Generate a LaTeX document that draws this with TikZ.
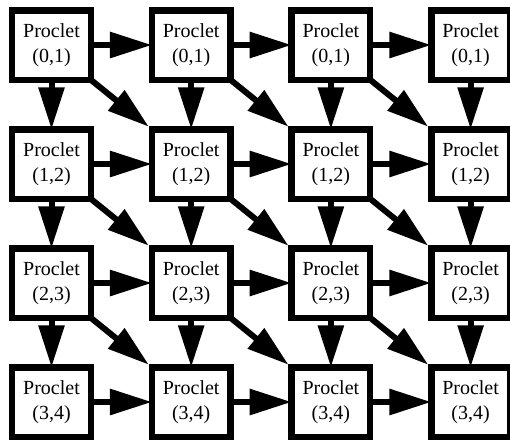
\documentclass[tikz,border=0pt]{standalone}
\usepackage{fontspec}
\setmainfont{Liberation Serif}
\usetikzlibrary{matrix,arrows.meta}

\tikzset{
	proclet/.style={draw, line width=6.5pt, minimum width=78.5pt, minimum height=69.5pt,
		inner sep=0pt, align=center, font=\fontsize{20}{25}\selectfont},
	flow/.style={draw, line width=6pt, -{Triangle[length=42pt,width=25pt]}},
	diag/.style={flow, shorten >=4pt},
}

\begin{document}
\begin{tikzpicture}[x=1pt, y=1pt]
	\path[use as bounding box, fill=white] (0,0) rectangle (510,-440);
	\matrix[name=m, anchor=north west, inner sep=0pt, outer sep=0pt,
		column sep=54.7pt, row sep=43pt] at (9,-7) {
	\node[proclet] (m-1-1) {Proclet\\(0,1)}; & \node[proclet] (m-1-2) {Proclet\\(0,1)}; &
	\node[proclet] (m-1-3) {Proclet\\(0,1)}; & \node[proclet] (m-1-4) {Proclet\\(0,1)}; \\
	\node[proclet] (m-2-1) {Proclet\\(1,2)}; & \node[proclet] (m-2-2) {Proclet\\(1,2)}; &
	\node[proclet] (m-2-3) {Proclet\\(1,2)}; & \node[proclet] (m-2-4) {Proclet\\(1,2)}; \\
	\node[proclet] (m-3-1) {Proclet\\(2,3)}; & \node[proclet] (m-3-2) {Proclet\\(2,3)}; &
	\node[proclet] (m-3-3) {Proclet\\(2,3)}; & \node[proclet] (m-3-4) {Proclet\\(2,3)}; \\
	\node[proclet] (m-4-1) {Proclet\\(3,4)}; & \node[proclet] (m-4-2) {Proclet\\(3,4)}; &
	\node[proclet] (m-4-3) {Proclet\\(3,4)}; & \node[proclet] (m-4-4) {Proclet\\(3,4)}; \\ };
	% right and down
	\path[every edge/.style={flow}]
	(m-1-1) edge (m-1-2) (m-1-2) edge (m-1-3) (m-1-3) edge (m-1-4)
	(m-2-1) edge (m-2-2) (m-2-2) edge (m-2-3) (m-2-3) edge (m-2-4)
	(m-3-1) edge (m-3-2) (m-3-2) edge (m-3-3) (m-3-3) edge (m-3-4)
	(m-4-1) edge (m-4-2) (m-4-2) edge (m-4-3) (m-4-3) edge (m-4-4)
	(m-1-1) edge (m-2-1) (m-1-2) edge (m-2-2) (m-1-3) edge (m-2-3) (m-1-4) edge (m-2-4)
	(m-2-1) edge (m-3-1) (m-2-2) edge (m-3-2) (m-2-3) edge (m-3-3) (m-2-4) edge (m-3-4)
	(m-3-1) edge (m-4-1) (m-3-2) edge (m-4-2) (m-3-3) edge (m-4-3) (m-3-4) edge (m-4-4);
	% diagonals
	\path[every edge/.style={diag}]
	(m-1-1.south east) edge (m-2-2.north west)
	(m-1-2.south east) edge (m-2-3.north west)
	(m-1-3.south east) edge (m-2-4.north west)
	(m-2-1.south east) edge (m-3-2.north west)
	(m-2-2.south east) edge (m-3-3.north west)
	(m-2-3.south east) edge (m-3-4.north west)
	(m-3-1.south east) edge (m-4-2.north west)
	(m-3-2.south east) edge (m-4-3.north west)
	(m-3-3.south east) edge (m-4-4.north west);
\end{tikzpicture}
\end{document}
